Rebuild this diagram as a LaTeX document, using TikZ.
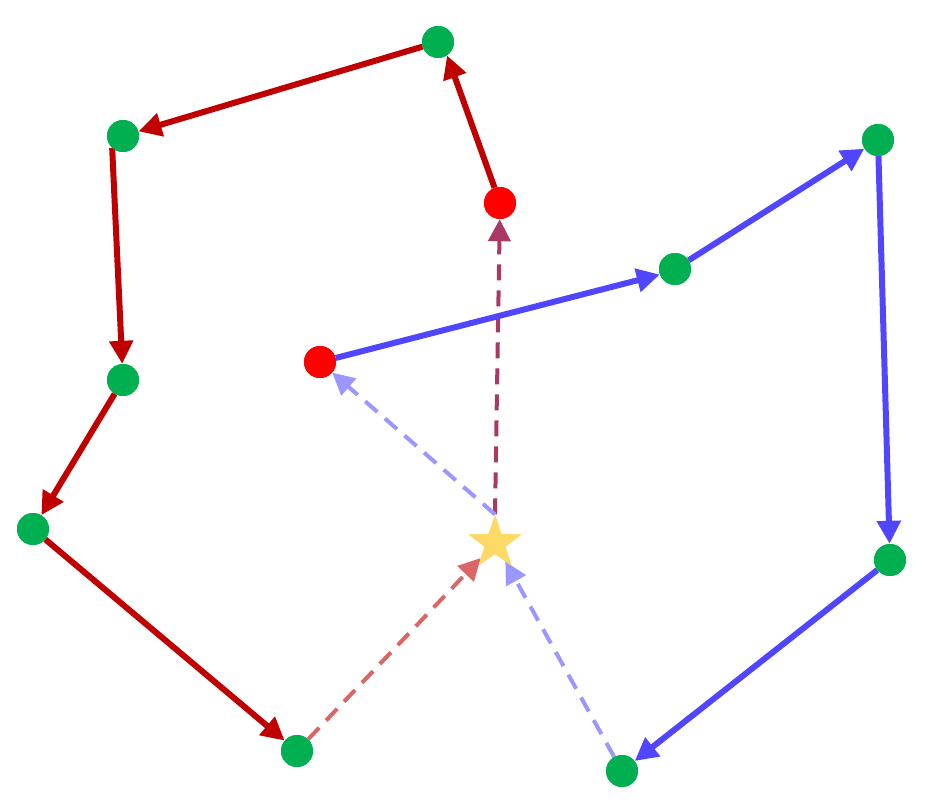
\documentclass[tikz,border=0pt]{standalone}
\usepackage{tikz}
\usetikzlibrary{arrows.meta,shapes.geometric}
\definecolor{pathred}{HTML}{C00000}
\definecolor{pathblue}{HTML}{5046FF}
\definecolor{dotgreen}{HTML}{00B050}
\definecolor{dotred}{HTML}{FF0000}
\definecolor{staryellow}{HTML}{FFD966}
\definecolor{backred}{HTML}{DA6666}
\definecolor{backblue}{HTML}{9C96FF}
\definecolor{backpurple}{HTML}{AA3864}
\tikzset{
  stopdot/.style={circle, fill=dotgreen, inner sep=0pt, minimum size=32pt},
  startdot/.style={stopdot, fill=dotred},
  hubstar/.style={star, star points=5, star point ratio=2.55, fill=staryellow, inner sep=0pt, minimum size=56pt},
  tourarrow/.style={-{Triangle[length=23pt, width=23pt]}, line width=6pt},
  backarrow/.style={-{Triangle[length=22pt, width=22pt]}, line width=4pt, dash pattern=on 16pt off 10pt},
}
\begin{document}
\begin{tikzpicture}[x=1pt, y=-1pt]
		\useasboundingbox (0,0) rectangle (925,811);

		% Hub
		\node[hubstar] (hub) at (495,543) {};

		% Red tour
		\node[startdot] (r0) at (500,203) {};
		\node[stopdot] (r1) at (438,42) {};
		\node[stopdot] (r2) at (123,136) {};
		\node[stopdot] (r3) at (123,380) {};
		\node[stopdot] (r4) at (33,529) {};
		\node[stopdot] (r5) at (297,751) {};

		% Blue tour
		\node[startdot] (b0) at (320,362) {};
		\node[stopdot] (b1) at (675,269) {};
		\node[stopdot] (b2) at (878,140) {};
		\node[stopdot] (b3) at (890,560) {};
		\node[stopdot] (b4) at (622,771) {};

		% Return legs (dashed)
		\draw[backarrow, backred] (r5) -- (hub);
		\draw[backarrow, backpurple] (hub.north) -- (r0);
		\draw[backarrow, backblue] (b4) -- (hub);
		\draw[backarrow, backblue] (hub.north) -- (b0);

		% Tours
		\draw[tourarrow, pathred] (r0) -- (r1.304);
		\draw[tourarrow, pathred] (r1) -- (r2);
		\draw[tourarrow, pathred] (r2.228) -- (r3);
		\draw[tourarrow, pathred] (r3) -- (r4);
		\draw[tourarrow, pathred] (r4) -- (r5);
		\draw[tourarrow, pathblue] (b0) -- (b1.200);
		\draw[tourarrow, pathblue] (b1) -- (b2);
		\draw[tourarrow, pathblue] (b2) -- (b3);
		\draw[tourarrow, pathblue] (b3) -- (b4);

		% Redraw dots and hub on top
		\foreach \n in {r1,r2,r3,r4,r5,b1,b2,b3,b4}
			\fill[dotgreen] (\n) circle (16pt);
		\foreach \n in {r0,b0}
			\fill[dotred] (\n) circle (16pt);
		\node[hubstar] at (hub) {};
	\end{tikzpicture}
\end{document}
